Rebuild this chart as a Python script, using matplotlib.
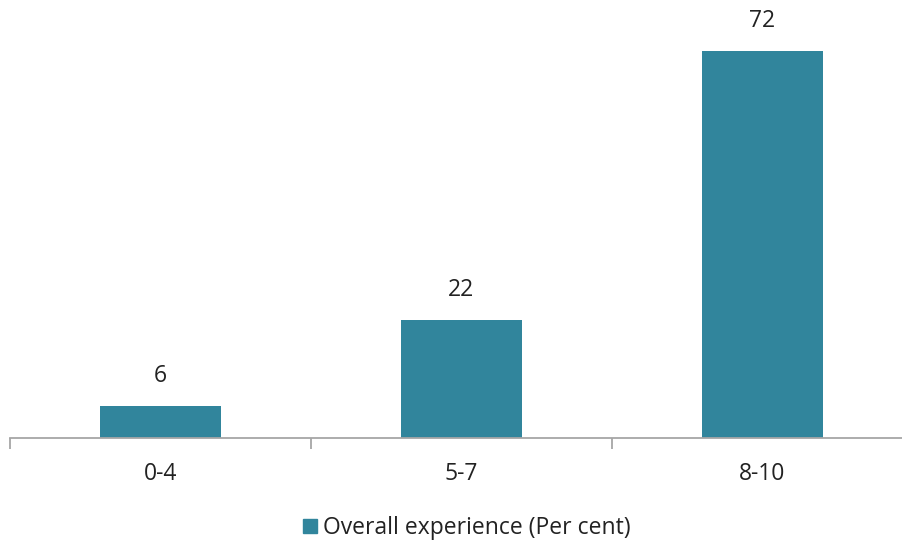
import matplotlib.pyplot as plt
from matplotlib.patches import Patch

categories = ['0-4', '5-7', '8-10']
values = [6, 22, 72]
label = 'Overall experience (Per cent)'
bar_color = '#31859C'
axis_color = '#A6A6A6'

plt.rcParams['font.family'] = ['Open Sans', 'DejaVu Sans']

fig = plt.figure(figsize=(9.03, 5.42), dpi=100)
ax = fig.add_axes([10 / 903, 104 / 542, 903 / 903, 430 / 542])

x = range(len(categories))
bars = ax.bar(x, values, width=0.4, color=bar_color)
ax.set_xlim(-0.5, 2.5)
ax.set_ylim(0, 80)

for xi, v in zip(x, values):
    ax.annotate(str(v), (xi, v), xytext=(0, 13), textcoords='offset points',
                ha='center', va='bottom', fontsize=16.5, color='#222222')

for s in ['top', 'right', 'left']:
    ax.spines[s].set_visible(False)
ax.spines['bottom'].set_color(axis_color)
ax.spines['bottom'].set_linewidth(1.3)
ax.set_yticks([])

ax.set_xticks([-0.5, 0.5, 1.5, 2.5])
ax.set_xticklabels([])
ax.set_xticks(list(x), minor=True)
ax.set_xticklabels(categories, minor=True, fontsize=16.5, color='#222222')
ax.tick_params(axis='x', which='major', length=8, width=1.3, color=axis_color)
ax.tick_params(axis='x', which='minor', length=0, pad=17)

fig.legend(handles=[Patch(color=bar_color, label=label)], loc='center',
           bbox_to_anchor=(467 / 903, 1 - 528 / 542), frameon=False,
           fontsize=16.5, handlelength=0.6, handleheight=0.6, handletextpad=0.3,
           labelcolor='#222222')

fig.savefig('out.png', dpi=100)
